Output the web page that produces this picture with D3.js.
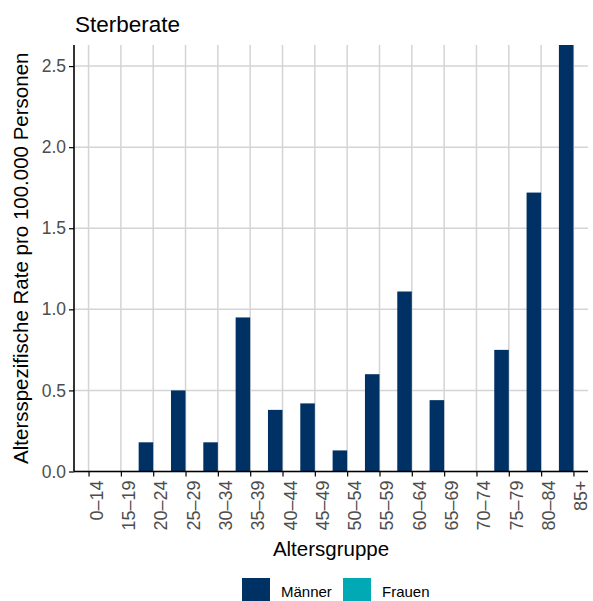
<!DOCTYPE html>
<html>
<head>
<meta charset="utf-8">
<script src="https://cdn.jsdelivr.net/npm/d3@7"></script>
<style>
  html, body { margin: 0; padding: 0; background: #fff; }
  svg { display: block; font-family: "Liberation Sans", Arial, sans-serif; }
</style>
</head>
<body>
<svg id="chart" width="593" height="601"></svg>
<script>
const categories = ["0–14","15–19","20–24","25–29","30–34","35–39","40–44","45–49","50–54","55–59","60–64","65–69","70–74","75–79","80–84","85+"];
const maenner = [0, 0, 0.18, 0.50, 0.18, 0.95, 0.38, 0.42, 0.13, 0.60, 1.11, 0.44, 0, 0.75, 1.72, 2.63];
const frauen  = [0, 0, 0, 0, 0, 0, 0, 0, 0, 0, 0, 0, 0, 0, 0, 0];
const yTicks = [0, 0.5, 1.0, 1.5, 2.0, 2.5];
const seriesNames = ["Männer", "Frauen"];
const seriesColors = ["#003165", "#00A9B4"];

(function () {
const svg = d3.select("#chart");
const pL = 74, pR = 588, pT = 45, pB = 471.5;

const x = d3.scalePoint().domain(categories).range([pL, pR]).padding(0.45);
const step = x.step();
const bw = 0.45 * step;
const y = d3.scaleLinear().domain([0, 2.63]).range([pB, pT]);

const gridColor = "#d4d4d4";
svg.append("g").selectAll("line").data(yTicks).join("line")
  .attr("x1", pL).attr("x2", pR)
  .attr("y1", d => y(d)).attr("y2", d => y(d))
  .attr("stroke", gridColor).attr("stroke-width", 1.5);
svg.append("g").selectAll("line").data(categories).join("line")
  .attr("x1", d => x(d)).attr("x2", d => x(d))
  .attr("y1", pT).attr("y2", pB)
  .attr("stroke", gridColor).attr("stroke-width", 1.5);

const data = categories.map((c, i) => ({c, m: maenner[i], f: frauen[i]}));
svg.append("g").selectAll("rect").data(data).join("rect")
  .attr("x", d => x(d.c) - bw).attr("width", bw)
  .attr("y", d => y(d.m)).attr("height", d => pB - y(d.m))
  .attr("fill", seriesColors[0]);
svg.append("g").selectAll("rect").data(data).join("rect")
  .attr("x", d => x(d.c)).attr("width", bw)
  .attr("y", d => y(d.f)).attr("height", d => pB - y(d.f))
  .attr("fill", seriesColors[1]);

const yAxis = d3.axisLeft(y).tickValues(yTicks).tickFormat(d3.format(".1f")).tickSize(5).tickPadding(3);
const gy = svg.append("g").attr("transform", `translate(${pL},0)`).call(yAxis);
gy.select(".domain").attr("stroke", "#000").attr("stroke-width", 1.6).attr("d", `M0,${pT}V${pB}`);
gy.selectAll(".tick line").attr("stroke", "#000").attr("stroke-width", 1.2);
gy.selectAll(".tick text").attr("fill", "#4d4d4d").attr("font-size", 17.5).attr("font-family", "Liberation Sans, Arial, sans-serif");

const xAxis = d3.axisBottom(x).tickSize(5).tickSizeOuter(0);
const gx = svg.append("g").attr("transform", `translate(0,${pB})`).call(xAxis);
gx.select(".domain").attr("stroke", "#000").attr("stroke-width", 1.6).attr("d", `M${pL},0H${pR}`);
gx.selectAll(".tick line").attr("stroke", "#000").attr("stroke-width", 1.2);
gx.selectAll(".tick text")
  .attr("fill", "#4d4d4d").attr("font-size", 18).attr("font-family", "Liberation Sans, Arial, sans-serif")
  .attr("text-anchor", "end")
  .attr("transform", "translate(0,9) rotate(-90)")
  .attr("x", 0).attr("y", 0).attr("dy", "0.75em");

svg.append("text").attr("x", 75).attr("y", 32).attr("font-size", 22.5).attr("fill", "#000").text("Sterberate");
svg.append("text").attr("transform", `translate(28,${(pT+pB)/2}) rotate(-90)`)
  .attr("text-anchor", "middle").attr("font-size", 20.5).attr("fill", "#000")
  .text("Altersspezifische Rate pro 100.000 Personen");
svg.append("text").attr("x", (pL+pR)/2).attr("y", 556).attr("text-anchor", "middle")
  .attr("font-size", 20.5).attr("fill", "#000").text("Altersgruppe");

const leg = svg.append("g");
const legX = [242, 343];
seriesNames.forEach((n, i) => {
  leg.append("rect").attr("x", legX[i]).attr("y", 578).attr("width", 28).attr("height", 23).attr("fill", seriesColors[i]);
  leg.append("text").attr("x", legX[i] + 39).attr("y", 597).attr("font-size", 15).attr("fill", "#000").text(n);
});
})();
</script>
</body>
</html>
